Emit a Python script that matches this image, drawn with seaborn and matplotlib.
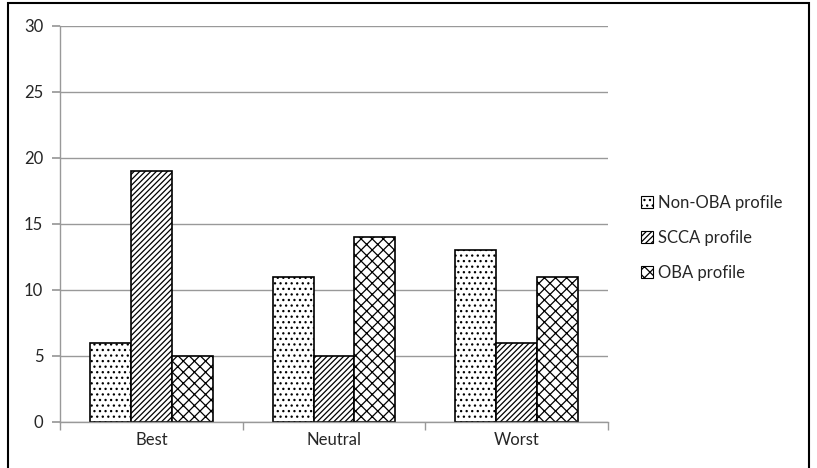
import matplotlib
matplotlib.use("Agg")
import matplotlib.pyplot as plt
from matplotlib.patches import Rectangle, Patch
import seaborn as sns
import pandas as pd

# data
categories = ["Best", "Neutral", "Worst"]
profiles = ["Non-OBA profile", "SCCA profile", "OBA profile"]
non_oba = [6, 11, 13]
scca = [19, 5, 6]
oba = [5, 14, 11]

hatches = ["...", "//////", "xxx"]

sns.set_theme(style="white")
plt.rcParams["font.family"] = ["Lato", "DejaVu Sans"]
plt.rcParams["hatch.linewidth"] = 0.9
plt.rcParams["hatch.color"] = "black"

df = pd.DataFrame({
    "category": categories * 3,
    "profile": [p for p in profiles for _ in categories],
    "value": non_oba + scca + oba,
})

fig = plt.figure(figsize=(8.17, 4.68), dpi=100)
ax = fig.add_axes([60 / 817, 46 / 468, 548 / 817, 396 / 468])

sns.barplot(
    data=df, x="category", y="value", hue="profile",
    order=categories, hue_order=profiles,
    palette=["white"] * 3,
    width=0.67, gap=0, edgecolor="black", linewidth=1.2,
    legend=False, ax=ax, errorbar=None,
)
for container, h in zip(ax.containers, hatches):
    for bar in container:
        bar.set_hatch(h)
        bar.set_facecolor("white")
        bar.set_edgecolor("black")

ax.set_ylim(0, 30)
ax.set_yticks(range(0, 31, 5))
ax.set_xlim(-0.5, 2.5)
ax.yaxis.grid(True, color="#999999", linewidth=1)
ax.set_axisbelow(True)
ax.set_xlabel("")
ax.set_ylabel("")

for side in ["top", "right"]:
    ax.spines[side].set_visible(False)
for side in ["left", "bottom"]:
    ax.spines[side].set_color("#999999")
    ax.spines[side].set_linewidth(1)

ax.tick_params(axis="y", length=6, color="#999999", labelsize=12, pad=6, left=True)
ax.set_xticks([-0.5, 0.5, 1.5, 2.5], minor=True)
ax.tick_params(axis="x", which="minor", length=6, color="#999999", bottom=True)
ax.tick_params(axis="x", which="major", length=0, labelsize=12, pad=7)

handles = [Patch(facecolor="white", edgecolor="black", hatch=h, linewidth=0.8) for h in hatches]
fig.legend(
    handles, profiles, loc="center left", bbox_to_anchor=(626 / 817, 230 / 468),
    frameon=False, fontsize=12, handlelength=0.7, handleheight=0.7,
    handletextpad=0.3, labelspacing=1.15,
)

# outer frame around the chart
fig.patches.append(Rectangle((8 / 817, -0.02), 801 / 817, 1.02 - 3 / 468,
                             transform=fig.transFigure, fill=False,
                             edgecolor="black", linewidth=1.5))

fig.savefig("out.png", dpi=100)
